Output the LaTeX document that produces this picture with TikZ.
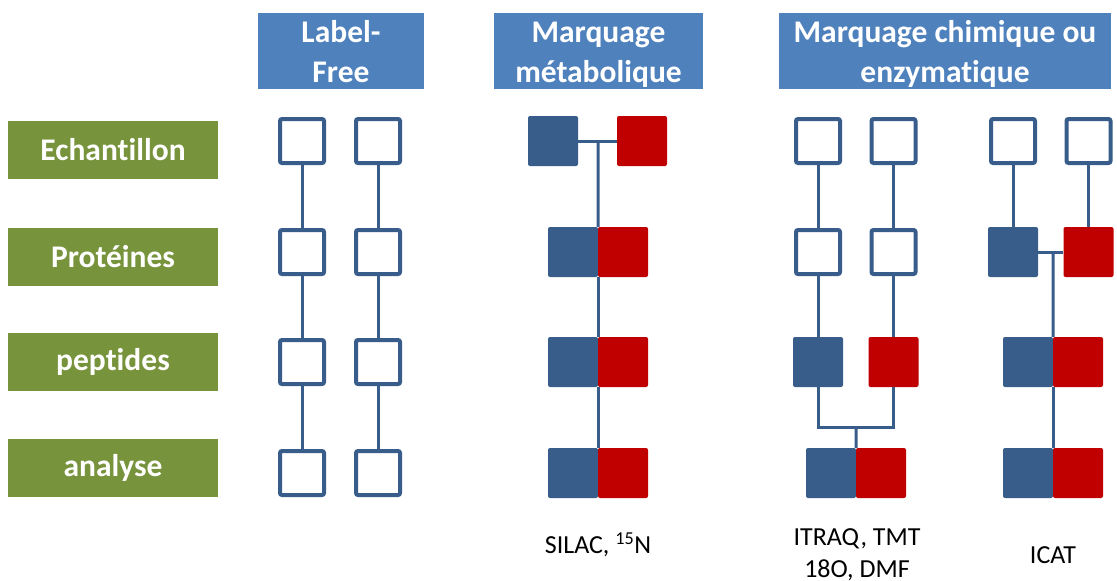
\documentclass[tikz,border=0pt]{standalone}
\usepackage{fontspec}
\setmainfont{Carlito}[Ligatures=NoCommon]
\definecolor{hdrblue}{HTML}{4F81BD}
\definecolor{lblgreen}{HTML}{77933C}
\definecolor{boxblue}{HTML}{385D8A}
\definecolor{boxred}{HTML}{C00000}
\newcommand{\hdrtop}{\rule{0pt}{29pt}}
\newcommand{\hdrbot}{\rule[-7pt]{0pt}{0pt}}
\tikzset{
	hdr/.style={fill=hdrblue, text=white, font=\bfseries\fontsize{31.5}{40}\selectfont, align=center, inner sep=0pt, minimum height=76pt},
	rowlbl/.style={fill=lblgreen, text=white, font=\bfseries\fontsize{31.5}{35}\selectfont, inner sep=0pt, minimum width=210pt, minimum height=58pt},
	wbox/.style={draw=boxblue, line width=4pt, fill=white, inner sep=0pt, minimum size=44pt, rounded corners=2pt},
	bbox/.style={fill=boxblue, inner sep=0pt, minimum size=50pt, rounded corners=2pt},
	rbox/.style={fill=boxred, inner sep=0pt, minimum size=50pt, rounded corners=2pt},
	link/.style={draw=boxblue, line width=3pt},
	method/.style={font=\fontsize{26}{32}\selectfont, align=center, inner sep=0pt}
}

\begin{document}
\begin{tikzpicture}[x=1pt, y=-1pt]
			%%%%% START %%%%%
			\clip (0, 0) rectangle (1117, 581);
			\useasboundingbox (0, 0) rectangle (1117, 581);
			
			\node[hdr, minimum width=166pt] (hlf) at (341, 51) {\hdrtop Label-\\Free\hdrbot};
			\node[hdr, minimum width=209pt] (hmet) at (598.5, 51) {\hdrtop Marquage\\métabolique\hdrbot};
			\node[hdr, minimum width=332pt] (hchim) at (945, 51) {\hdrtop Marquage chimique ou\\enzymatique\hdrbot};
			
			\node[rowlbl] (ech) at (113, 150) {Echantillon};
			\node[rowlbl] (prot) at (113, 256.5) {Protéines};
			\node[rowlbl] (pep) at (113, 362) {peptides};
			\node[rowlbl] (ana) at (113, 467.5) {analyse};
			
			% label free
			\foreach \r/\y in {1/141, 2/252, 3/362, 4/473} {
				\node[wbox] (lfa\r) at (302, \y) {};
				\node[wbox] (lfb\r) at (378, \y) {};
			}
			\foreach \r/\s in {1/2, 2/3, 3/4} {
				\draw[link] (lfa\r.south) -- (lfa\s.north);
				\draw[link] (lfb\r.south) -- (lfb\s.north);
			}
			
			% metabolique
			\node[bbox] (meta1) at (553, 141) {};
			\node[rbox] (metb1) at (642, 141) {};
			\foreach \r/\y in {2/252, 3/362, 4/473} {
				\node[bbox] (meta\r) at (573, \y) {};
				\node[rbox] (metb\r) at (623, \y) {};
			}
			\coordinate (metj) at (598, 141);
			\draw[link] (meta1.east) -- (metb1.west);
			\draw[link] (metj) -- (meta2.north east);
			\draw[link] (meta2.south east) -- (meta3.north east);
			\draw[link] (meta3.south east) -- (meta4.north east);
			
			% chimique
			\node[wbox] (cha1) at (818, 141) {};
			\node[wbox] (chb1) at (893.5, 141) {};
			\node[wbox] (cha2) at (818, 252) {};
			\node[wbox] (chb2) at (893.5, 252) {};
			\node[bbox] (cha3) at (818, 362) {};
			\node[rbox] (chb3) at (893.5, 362) {};
			\node[bbox] (cha4) at (831, 473) {};
			\node[rbox] (chb4) at (881, 473) {};
			\coordinate (chj) at (856, 427);
			\draw[link] (cha1.south) -- (cha2.north);
			\draw[link] (chb1.south) -- (chb2.north);
			\draw[link] (cha2.south) -- (cha3.north);
			\draw[link] (chb2.south) -- (chb3.north);
			\draw[link] (cha3.south) |- (chj) -| (chb3.south);
			\draw[link] (chj) -- (cha4.north east);
			
			% ICAT
			\node[wbox] (ica1) at (1013, 141) {};
			\node[wbox] (icb1) at (1088.5, 141) {};
			\node[bbox] (ica2) at (1013, 252) {};
			\node[rbox] (icb2) at (1088.5, 252) {};
			\node[bbox] (ica3) at (1028, 362) {};
			\node[rbox] (icb3) at (1078, 362) {};
			\node[bbox] (ica4) at (1028, 473) {};
			\node[rbox] (icb4) at (1078, 473) {};
			\coordinate (icj) at (1053, 253);
			\draw[link] (ica1.south) -- (ica2.north);
			\draw[link] (icb1.south) -- (icb2.north);
			\draw[link] (ica2.east) -- (icb2.west);
			\draw[link] (icj) -- (ica3.north east);
			\draw[link] (ica3.south east) -- (ica4.north east);
			
			\node[method] (silac) at (598, 545) {SILAC, \textsuperscript{15}N};
			\node[method] (itraq) at (857, 555) {ITRAQ, TMT\\18O, DMF};
			\node[method] (icat) at (1053, 555) {ICAT};
			
			%%%%% END %%%%%
\end{tikzpicture}
\end{document}
